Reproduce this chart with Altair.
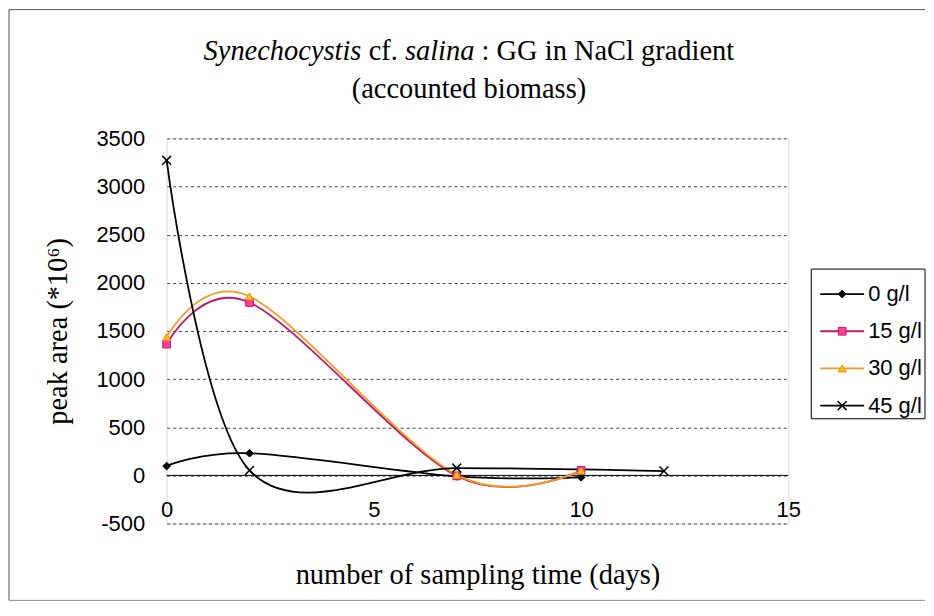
import altair as alt
import pandas as pd

# ---------------- data ----------------
series = ["0 g/l", "15 g/l", "30 g/l", "45 g/l"]
days_0 = [0, 2, 7, 10]
vals_0 = [97, 230, -10, -20]
days_15 = [0, 2, 7, 10]
vals_15 = [1363, 1796, -5, 52]
days_30 = [0, 2, 7, 10]
vals_30 = [1436, 1858, 5, 50]
days_45 = [0, 2, 7, 12]
vals_45 = [3272, 52, 76, 45]
y_ticks = [-500, 0, 500, 1000, 1500, 2000, 2500, 3000, 3500]
x_ticks = [0, 5, 10, 15]

# ---------------- styles ----------------
line_colors = ["#000000", "#C0186A", "#F39C1E", "#000000"]
marker_fill = ["#000000", "#FF3C9A", "#FFC21A", "#000000"]
marker_stroke = ["#000000", "#C0186A", "#F08A00", "#000000"]
marker_shape = ["diamond", "square", "triangle-up", "M-1,-1L1,1M-1,1L1,-1"]
marker_size = [60, 60, 64, 80]
marker_filled = [True, True, True, False]

rows = []
for name, ds, vs in zip(series, [days_0, days_15, days_30, days_45],
                        [vals_0, vals_15, vals_30, vals_45]):
    for d, v in zip(ds, vs):
        rows.append({"series": name, "day": d, "value": v})
df = pd.DataFrame(rows)

W, H = 623, 386
SERIF = "Liberation Serif"
SANS = "Liberation Sans"
TFS = 28.5   # title font size
LFS = 22     # label font size

xs = alt.Scale(domain=[0, 15], nice=False, zero=False)
ys = alt.Scale(domain=[-500, 3500], nice=False, zero=False)

x_axis = alt.Axis(values=x_ticks, title="number of sampling time (days)", grid=False,
                  domain=False, ticks=False, tickSize=0, labelPadding=-24,
                  labelFont=SANS, labelFontSize=LFS, labelColor="black", labelFlush=False,
                  labelOverlap=False,
                  titleFont=SERIF, titleFontSize=TFS, titleFontWeight="normal",
                  titleColor="black", titleY=60, titleBaseline="alphabetic")
y_axis = alt.Axis(values=y_ticks, title="peak area (*10⁶)", grid=True, gridDash=[3, 3],
                  gridColor="#444444", gridWidth=1, domain=False, ticks=False, tickSize=0,
                  labelPadding=22, labelFont=SANS, labelFontSize=LFS, labelColor="black",
                  labelOverlap=False, labelExpr="'' + datum.value",
                  titleFont=SERIF, titleFontSize=TFS, titleFontWeight="normal",
                  titleColor="black", titleX=-100, titleY=193, titleAngle=270,
                  titleBaseline="alphabetic")

base = alt.Chart(df)
layers = []
layers.append(base.mark_point(opacity=0).encode(
    x=alt.X("day:Q", scale=xs, axis=x_axis),
    y=alt.Y("value:Q", scale=ys, axis=y_axis)))
layers.append(alt.Chart(pd.DataFrame({"z": [0]})).mark_rule(color="black", strokeWidth=1).encode(
    y=alt.datum(0)))

for i, name in enumerate(series):
    sub = base.transform_filter(alt.datum.series == name)
    layers.append(sub.mark_line(interpolate="cardinal", color=line_colors[i], strokeWidth=1.8).encode(
        x=alt.X("day:Q", scale=xs), y=alt.Y("value:Q", scale=ys)))
for i, name in enumerate(series):
    sub = base.transform_filter(alt.datum.series == name)
    layers.append(sub.mark_point(shape=marker_shape[i], filled=marker_filled[i],
                                 fill=marker_fill[i] if marker_filled[i] else "transparent",
                                 stroke=marker_stroke[i],
                                 strokeWidth=1.5 if not marker_filled[i] else 1,
                                 size=marker_size[i], opacity=1).encode(
        x=alt.X("day:Q", scale=xs), y=alt.Y("value:Q", scale=ys)))

one = pd.DataFrame({"a": [0]})
deco = []
# outer frame
FL, FT, FB, FR = -158, -129, 463, 760
deco.append(alt.Chart(one).mark_rule(color="#555555", strokeWidth=1).encode(
    x=alt.value(FL), y=alt.value(FT), y2=alt.value(FB)))
deco.append(alt.Chart(one).mark_rule(color="#555555", strokeWidth=1).encode(
    x=alt.value(FL), x2=alt.value(FR), y=alt.value(FT)))
deco.append(alt.Chart(one).mark_rule(color="#888888", strokeWidth=1).encode(
    x=alt.value(FL), x2=alt.value(FR), y=alt.value(FB)))

# title (mixed italic / roman)
x0 = 37
title_parts = [("Synechocystis", "italic", 0.0), ("cf.", "normal", 5.804),
               ("salina", "italic", 7.081), (": GG in NaCl gradient", "normal", 9.776)]
for txt, style, off in title_parts:
    deco.append(alt.Chart(one).mark_text(font=SERIF, fontSize=TFS, fontStyle=style, align="left",
                                         baseline="alphabetic", color="black").encode(
        x=alt.value(x0 + off * TFS), y=alt.value(-79), text=alt.value(txt)))
deco.append(alt.Chart(one).mark_text(font=SERIF, fontSize=TFS, align="center",
                                     baseline="alphabetic", color="black").encode(
    x=alt.value(x0 + 18.664 * TFS / 2), y=alt.value(-40), text=alt.value("(accounted biomass)")))

# legend
deco.append(alt.Chart(one).mark_rect(fill="white", stroke="black", strokeWidth=1).encode(
    x=alt.value(646), x2=alt.value(FR), y=alt.value(131), y2=alt.value(281)))
for i, name in enumerate(series):
    yy = 156 + i * 37.3
    deco.append(alt.Chart(one).mark_rule(color=line_colors[i], strokeWidth=1.8).encode(
        x=alt.value(655), x2=alt.value(699), y=alt.value(yy)))
    deco.append(alt.Chart(one).mark_point(shape=marker_shape[i], filled=marker_filled[i],
                                          fill=marker_fill[i] if marker_filled[i] else "transparent",
                                          stroke=marker_stroke[i],
                                          strokeWidth=1.5 if not marker_filled[i] else 1,
                                          size=marker_size[i], opacity=1).encode(
        x=alt.value(677), y=alt.value(yy)))
    deco.append(alt.Chart(one).mark_text(font=SANS, fontSize=LFS, align="left", baseline="middle",
                                         color="black").encode(
        x=alt.value(703), y=alt.value(yy), text=alt.value(name)))

chart = alt.layer(*layers, *deco).properties(
    width=W, height=H, padding={"left": 0, "top": 0, "right": 0, "bottom": 0}
).configure_view(stroke="black", strokeWidth=1.6).configure(background="white")

chart.save("out.html", embed_options={"renderer": "svg", "actions": False})
